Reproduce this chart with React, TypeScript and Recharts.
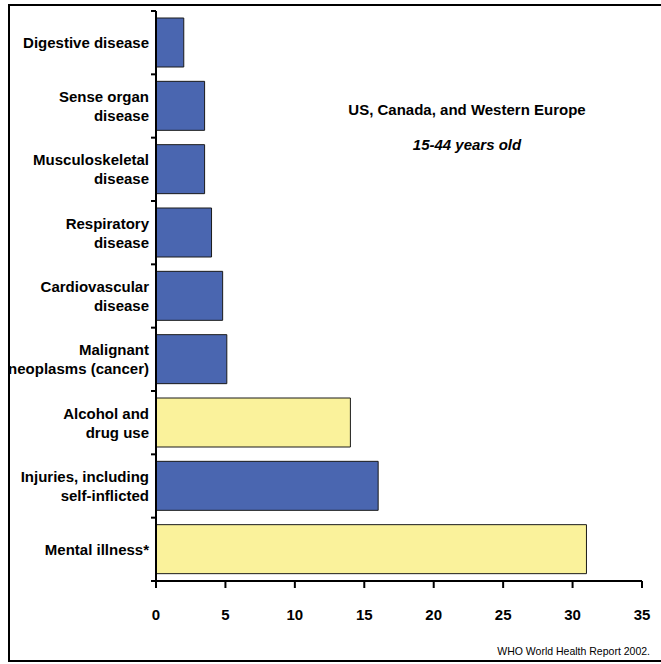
import { Bar, BarChart, Cell, XAxis, YAxis } from "recharts";

const categories = [
  ["Digestive disease"],
  ["Sense organ", "disease"],
  ["Musculoskeletal", "disease"],
  ["Respiratory", "disease"],
  ["Cardiovascular", "disease"],
  ["Malignant", "neoplasms (cancer)"],
  ["Alcohol and", "drug use"],
  ["Injuries, including", "self-inflicted"],
  ["Mental illness*"],
];
const values = [2, 3.5, 3.5, 4, 4.8, 5.1, 14, 16, 31];
// bars in the mental-health group are drawn yellow
const mentalGroup = [false, false, false, false, false, false, true, false, true];
const xTicks = [0, 5, 10, 15, 20, 25, 30, 35];

const BLUE = "#4A66B0";
const YELLOW = "#FAF29B";
const FONT = '"Liberation Sans", Arial, sans-serif';

const W = 661;
const H = 664;
const PLOT_TOP = 11;
const PLOT_BOTTOM = 581;
const AXIS_X = 156;
const X_AXIS_H = 40;
const BAND = (PLOT_BOTTOM - PLOT_TOP) / categories.length;

const data = categories.map((lines, i) => ({
  name: lines.join(" "),
  lines,
  value: values[i],
  mental: mentalGroup[i],
}));

function CategoryTick(props: any) {
  const { y, index } = props;
  const lines: string[] = data[index].lines;
  const lineH = 19;
  const first = y - ((lines.length - 1) * lineH) / 2;
  return (
    <g>
      <line x1={AXIS_X - 5} x2={AXIS_X} y1={y - BAND / 2} y2={y - BAND / 2} stroke="#000" strokeWidth={2} />
      {index === data.length - 1 && (
        <line x1={AXIS_X - 5} x2={AXIS_X} y1={y + BAND / 2} y2={y + BAND / 2} stroke="#000" strokeWidth={2} />
      )}
      {lines.map((l, k) => (
        <text
          key={k}
          x={149}
          y={first + k * lineH}
          dy="0.36em"
          textAnchor="end"
          fontFamily={FONT}
          fontWeight="bold"
          fontSize={15}
          fill="#000"
        >
          {l}
        </text>
      ))}
    </g>
  );
}

export default function App() {
  return (
    <div style={{ position: "absolute", left: 0, top: 0, width: W, height: H, background: "#fff", overflow: "hidden" }}>
      <div
        style={{
          position: "absolute",
          left: 8,
          top: 4,
          width: W,
          height: 658,
          border: "2px solid #000",
          boxSizing: "border-box",
        }}
      />
      <BarChart
        width={W}
        height={H}
        data={data}
        layout="vertical"
        margin={{ top: PLOT_TOP, right: W - 642, bottom: H - PLOT_BOTTOM - X_AXIS_H, left: 0 }}
        style={{ position: "absolute", left: 0, top: 0 }}
      >
        <XAxis
          type="number"
          domain={[0, 35]}
          ticks={xTicks}
          interval={0}
          height={X_AXIS_H}
          tickSize={7}
          tickMargin={21}
          axisLine={{ stroke: "#000", strokeWidth: 2 }}
          tickLine={{ stroke: "#000", strokeWidth: 2 }}
          tick={{ fill: "#000", fontFamily: FONT, fontWeight: "bold", fontSize: 15 }}
        />
        <YAxis
          type="category"
          dataKey="name"
          width={AXIS_X}
          interval={0}
          axisLine={{ stroke: "#000", strokeWidth: 2 }}
          tickLine={false}
          tick={<CategoryTick />}
        />
        <Bar dataKey="value" barSize={49} stroke="#1a1a1a" strokeWidth={1} isAnimationActive={false}>
          {data.map((d, i) => (
            <Cell key={i} fill={d.mental ? YELLOW : BLUE} />
          ))}
        </Bar>
      </BarChart>
      <div
        style={{
          position: "absolute",
          left: 467 - 150,
          width: 300,
          top: 101,
          textAlign: "center",
          fontFamily: FONT,
          fontWeight: "bold",
          fontSize: 15,
        }}
      >
        US, Canada, and Western Europe
      </div>
      <div
        style={{
          position: "absolute",
          left: 467 - 150,
          width: 300,
          top: 136,
          textAlign: "center",
          fontFamily: FONT,
          fontWeight: "bold",
          fontStyle: "italic",
          fontSize: 15,
        }}
      >
        15-44 years old
      </div>
      <div
        style={{
          position: "absolute",
          right: W - 650,
          top: 645,
          fontFamily: FONT,
          fontSize: 10.5,
        }}
      >
        WHO World Health Report 2002.
      </div>
    </div>
  );
}
